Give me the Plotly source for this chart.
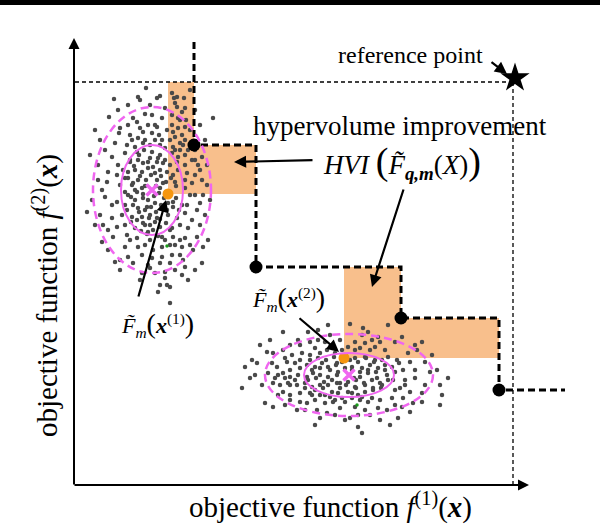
import plotly.graph_objects as go

# ---------------- data (pixel-space values) ----------------
# current Pareto front (black points), reference point
front_x = [194, 256, 401, 499]
front_y = [145, 267, 318, 390]
front_top_y = 42
front_end_x = 565
ref_x = 513
ref_y = 82
star_x = [515]
star_y = [78]

# predicted mean points of the two candidates (orange)
new_x = [168, 344]
new_y = [194, 358]

# distribution centres (magenta crosses) and ellipse half-axes
centre_x = [152, 349]
centre_y = [190, 375]
inner_rx = [31, 45]
inner_ry = [45, 22]
outer_rx = [59, 84]
outer_ry = [83, 41]

# sample clouds (estimated positions)
left_pts = [
    (146, 88), (114, 99), (138, 97), (140, 100), (157, 98), (160, 96), (172, 93), (177, 97), (174, 98), (184, 98),
    (177, 107), (185, 108), (195, 110), (213, 118), (109, 117), (133, 118), (137, 122), (145, 114), (152, 115),
    (162, 118), (148, 125), (157, 127), (120, 128), (119, 133), (130, 135), (138, 138), (143, 132), (152, 133),
    (159, 135), (172, 125), (178, 128), (173, 132), (182, 135), (185, 127), (175, 137), (185, 140), (180, 143),
    (115, 143), (127, 145), (135, 147), (143, 143), (162, 140), (165, 148), (173, 147), (125, 153), (137, 152),
    (152, 152), (160, 155), (172, 153), (178, 157), (185, 155), (202, 157), (112, 157), (90, 155), (118, 165),
    (130, 162), (138, 160), (143, 163), (150, 158), (157, 162), (165, 160), (170, 165), (177, 162), (185, 165),
    (192, 160), (198, 165), (207, 165), (108, 172), (117, 175), (128, 172), (135, 170), (142, 172), (148, 168),
    (155, 173), (160, 170), (167, 172), (173, 175), (178, 170), (187, 173), (195, 175), (200, 170),
    (98, 180), (107, 182), (125, 178), (132, 185), (138, 180), (142, 188), (157, 180), (163, 183), (175, 182),
    (185, 180), (192, 183), (202, 180), (207, 185), (92, 200), (105, 197), (117, 202), (128, 195), (135, 200),
    (143, 198), (125, 205), (138, 208), (147, 207), (155, 203), (162, 208), (173, 202), (182, 205), (195, 195),
    (200, 203), (87, 212), (100, 215), (112, 218), (122, 215), (132, 217), (142, 217), (150, 215), (157, 218),
    (168, 215), (177, 218), (185, 213), (192, 220), (103, 225), (117, 227), (125, 225), (135, 228), (145, 225),
    (148, 232), (160, 227), (172, 228), (180, 225), (188, 228), (200, 225), (102, 242), (113, 237), (127, 235),
    (137, 238), (150, 240), (162, 237), (173, 237), (185, 238), (197, 237), (125, 247), (138, 247), (153, 250),
    (162, 247), (170, 245), (182, 247), (193, 250), (203, 247), (128, 257), (142, 255), (152, 258), (162, 257),
    (172, 255), (183, 260), (133, 263), (148, 265), (160, 263), (170, 263), (185, 267), (202, 263), (155, 273),
    (165, 272), (142, 273), (175, 270), (158, 292), (167, 285), (170, 287), (170, 303), (160, 285),
    (130, 160), (134, 166), (139, 155), (144, 150), (148, 162), (153, 167), (158, 158), (163, 163), (128, 178),
    (133, 183), (140, 176), (146, 180), (151, 175), (156, 186), (161, 176), (166, 182), (171, 178), (176, 186),
    (125, 192), (131, 197), (137, 192), (143, 194), (148, 200), (154, 196), (159, 193), (164, 198), (170, 193),
    (127, 210), (133, 205), (139, 212), (145, 210), (151, 207), (156, 212), (161, 205), (167, 210), (173, 207),
    (131, 222), (137, 220), (143, 223), (149, 218), (155, 222), (160, 219), (166, 223), (141, 231), (147, 234),
    (153, 230), (158, 236), (176, 198), (179, 210), (120, 185), (123, 170), (145, 140), (150, 145), (155, 140),
    (160, 145), (170, 140), (175, 150), (180, 150), (183, 145), (186, 120), (190, 130), (172, 115), (178, 118),
    (182, 112), (175, 103), (188, 150), (195, 150), (185, 188), (190, 195), (170, 230), (175, 245), (180, 240),
    (95, 130), (100, 140), (105, 150), (98, 165), (102, 190), (95, 225), (108, 250), (115, 262), (120, 270),
    (190, 90), (200, 125), (205, 140), (210, 200), (205, 215), (208, 240), (195, 270), (188, 280), (118, 110),
    (128, 105), (150, 105), (165, 108), (128, 125), (140, 128), (167, 130), (190, 145), (195, 160), (135, 190),
    (145, 186), (160, 188), (168, 203), (150, 225), (130, 240), (145, 245), (165, 240), (190, 245), (180, 255),
    (150, 268), (140, 280), (165, 278), (182, 275), (112, 205), (108, 230), (120, 260), (197, 210), (203, 195),
    (187, 205), (132, 140), (155, 125), (180, 120),
]
right_pts = [
    (328, 325), (318, 330), (308, 332), (283, 332), (298, 340), (310, 342), (318, 340), (325, 342), (267, 352),
    (252, 360), (257, 363), (245, 367), (273, 353), (283, 350), (292, 355), (302, 353), (310, 355), (320, 353),
    (327, 350), (335, 353), (272, 363), (277, 367), (287, 362), (295, 363), (300, 368), (307, 365), (315, 367),
    (322, 363), (328, 367), (337, 363), (268, 373), (275, 378), (283, 373), (290, 377), (298, 375), (307, 377),
    (313, 373), (320, 375), (328, 377), (337, 375), (273, 383), (280, 385), (288, 383), (297, 385), (305, 383),
    (312, 387), (320, 385), (328, 385), (337, 383), (242, 388), (283, 392), (290, 395), (300, 393), (310, 393),
    (320, 395), (330, 397), (338, 393), (290, 400), (300, 402), (307, 403), (315, 400), (325, 403), (333, 402),
    (265, 403), (273, 407), (297, 410), (317, 410), (327, 413), (340, 408), (315, 425),
    (350, 324), (363, 328), (368, 332), (388, 325), (378, 337), (372, 340), (365, 343), (355, 342), (348, 347),
    (360, 348), (375, 347), (385, 350), (402, 337), (422, 342), (408, 353), (417, 350), (355, 358), (365, 357),
    (375, 360), (388, 357), (397, 360), (410, 362), (425, 362), (352, 367), (362, 368), (370, 365), (378, 368),
    (385, 365), (392, 367), (403, 370), (415, 370), (437, 370), (360, 377), (368, 373), (377, 378), (387, 375),
    (393, 380), (405, 380), (415, 378), (348, 382), (355, 387), (365, 385), (373, 388), (382, 385), (395, 390),
    (400, 388), (410, 392), (422, 393), (442, 395), (352, 393), (362, 397), (372, 398), (380, 400), (392, 398),
    (403, 398), (413, 403), (440, 405), (422, 402), (355, 407), (365, 410), (378, 408), (387, 410), (402, 407),
    (358, 415), (370, 415), (398, 418), (350, 418), (358, 427), (362, 433),
    (310, 360), (318, 358), (326, 360), (334, 357), (342, 362), (350, 360), (358, 362), (366, 358), (374, 362),
    (382, 360), (312, 370), (320, 368), (330, 370), (338, 372), (345, 368), (352, 370), (360, 372), (368, 370),
    (376, 372), (385, 370), (308, 380), (316, 378), (324, 382), (332, 380), (340, 383), (356, 380), (364, 383),
    (372, 380), (380, 383), (388, 380), (315, 390), (323, 388), (332, 392), (340, 388), (348, 392), (356, 388),
    (365, 392), (373, 390), (381, 388), (335, 400), (345, 402), (352, 398), (360, 400), (344, 360), (336, 365),
    (354, 378), (346, 385), (342, 350), (355, 350), (330, 347), (370, 350), (315, 348), (325, 395), (290, 370),
    (295, 380), (285, 378),
    (260, 345), (270, 340), (290, 345), (300, 345), (262, 385), (255, 375), (278, 395), (285, 405), (305, 410),
    (320, 418), (335, 415), (345, 420), (380, 420), (390, 425), (410, 412), (425, 385), (430, 372), (440, 385),
    (432, 355), (415, 345), (395, 342), (380, 342), (362, 335), (340, 340), (330, 335), (312, 395), (342, 398),
    (358, 395), (368, 402), (395, 405), (405, 385), (395, 372), (399, 363), (300, 360), (305, 388), (290, 385),
    (278, 375), (285, 358), (250, 378), (448, 378),
]
green_x = [167, 357]
green_y = [246, 405]

# ---------------- styles ----------------
W, H = 600, 524
SERIF = "Liberation Serif"
ORANGE_FILL = "#F8BF8C"
ORANGE = "#F5960F"
MAGENTA = "#F066F0"
GREY = "#4A4A4A"


def hvi_polygon(nx, ny):
    xs = [nx] + [px for px in front_x if px > nx]
    top = []
    last = nx
    for i, x0 in enumerate(xs):
        x1 = xs[i + 1] if i + 1 < len(xs) else ref_x
        u = ref_y
        for px, py in zip(front_x, front_y):
            if px <= x0:
                u = max(u, py)
        if u >= ny:
            break
        top += [(x0, u), (x1, u)]
        last = x1
    pts = [(nx, ny)] + top + [(last, ny)]
    return "M " + " L ".join(f"{a},{b}" for a, b in pts) + " Z"


fig = go.Figure()
shapes = []
for nx, ny in zip(new_x, new_y):
    shapes.append(dict(type="path", path=hvi_polygon(nx, ny), fillcolor=ORANGE_FILL,
                       line=dict(width=0), layer="below", xref="x", yref="y"))
shapes.append(dict(type="rect", xref="paper", yref="paper", x0=0, x1=1, y0=1 - 5 / H, y1=1,
                   fillcolor="black", line=dict(width=0)))
shapes.append(dict(type="line", x0=75, x1=ref_x, y0=ref_y, y1=ref_y,
                   line=dict(color="black", width=1.3, dash="4px,3px"), layer="below"))
shapes.append(dict(type="line", x0=ref_x, x1=ref_x, y0=ref_y, y1=485,
                   line=dict(color="black", width=1.3, dash="4px,3px"), layer="below"))
for cx, cy, rx, ry, Rx, Ry in zip(centre_x, centre_y, inner_rx, inner_ry, outer_rx, outer_ry):
    shapes.append(dict(type="circle", x0=cx - rx, x1=cx + rx, y0=cy - ry, y1=cy + ry,
                       line=dict(color=MAGENTA, width=2)))
    shapes.append(dict(type="circle", x0=cx - Rx, x1=cx + Rx, y0=cy - Ry, y1=cy + Ry,
                       line=dict(color=MAGENTA, width=2.5, dash="8px,5px")))

for pts in (left_pts, right_pts):
    fig.add_trace(go.Scatter(x=[p[0] for p in pts], y=[p[1] for p in pts], mode="markers",
                             marker=dict(size=4.5, color=GREY), hoverinfo="skip"))
fig.add_trace(go.Scatter(x=green_x, y=green_y, mode="markers",
                         marker=dict(size=3.5, color="#1a9a1a"), hoverinfo="skip"))

lx = [front_x[0]]
ly = [front_top_y]
for i in range(len(front_x)):
    lx.append(front_x[i]); ly.append(front_y[i])
    nxt = front_x[i + 1] if i + 1 < len(front_x) else front_end_x
    lx.append(nxt); ly.append(front_y[i])
fig.add_trace(go.Scatter(x=lx, y=ly, mode="lines",
                         line=dict(color="black", width=3, dash="7px,4px"), hoverinfo="skip"))
fig.add_trace(go.Scatter(x=front_x, y=front_y, mode="markers",
                         marker=dict(size=13, color="black"), hoverinfo="skip"))
fig.add_trace(go.Scatter(x=star_x, y=star_y, mode="markers",
                         marker=dict(size=22, color="black", symbol="star"), hoverinfo="skip"))
fig.add_trace(go.Scatter(x=centre_x, y=centre_y, mode="markers",
                         marker=dict(size=11, symbol="x-thin", line=dict(width=3.5, color=MAGENTA)),
                         hoverinfo="skip"))
fig.add_trace(go.Scatter(x=new_x, y=new_y, mode="markers",
                         marker=dict(size=11, color=ORANGE), hoverinfo="skip"))

ann = []


def arrow(tx, ty, hx, hy, w=2.2):
    ann.append(dict(x=hx, y=hy, ax=tx, ay=ty, xref="x", yref="y", axref="x", ayref="y",
                    text="", showarrow=True, arrowhead=2, arrowsize=1.1, arrowwidth=w,
                    arrowcolor="black"))


arrow(74, 486, 74, 38, 2)
arrow(73, 485, 529, 485, 2)
arrow(490, 61, 507, 74)
arrow(314, 160, 234, 162)
arrow(404, 188, 372, 287)
arrow(138, 298, 166, 200)
arrow(298, 317, 339, 352)


def label(x, y, text, size, angle=0):
    ann.append(dict(x=x, y=y, xref="x", yref="y", text=text, showarrow=False, textangle=angle,
                    font=dict(family=SERIF, size=size, color="black"), xanchor="center", yanchor="middle"))


BIG = "<span style='font-size:38px'>%s</span>"
label(410, 55, "reference point", 24)
label(400, 126, "hypervolume improvement", 27)
label(402, 162, "<i>HVI</i> " + BIG % "(" + "<i>F\u0303</i><sub><b><i>q,m</i></b></sub>(<i>X</i>)" + BIG % ")", 27)
label(157, 324, "<i>F\u0303</i><sub><i>m</i></sub><span style='font-size:28px'>(</span><b><i>x</i></b><sup>(1)</sup><span style='font-size:28px'>)</span>", 22)
label(288, 298, "<i>F\u0303</i><sub><i>m</i></sub><span style='font-size:28px'>(</span><b><i>x</i></b><sup>(2)</sup><span style='font-size:28px'>)</span>", 22)
label(330, 505, "objective function <i>f</i><sup>(1)</sup>(<b><i>x</i></b>)", 29)
label(45, 296, "objective function <i>f</i><sup>(2)</sup>(<b><i>x</i></b>)", 29, -90)

fig.update_layout(
    width=W, height=H, margin=dict(l=0, r=0, t=0, b=0),
    paper_bgcolor="white", plot_bgcolor="white", showlegend=False,
    xaxis=dict(range=[0, W], visible=False, fixedrange=True),
    yaxis=dict(range=[H, 0], visible=False, fixedrange=True),
    shapes=shapes, annotations=ann,
)
fig.write_html("out.html", post_script="document.body.style.margin='0';document.body.style.overflow='hidden';",
               config={"displayModeBar": False})
